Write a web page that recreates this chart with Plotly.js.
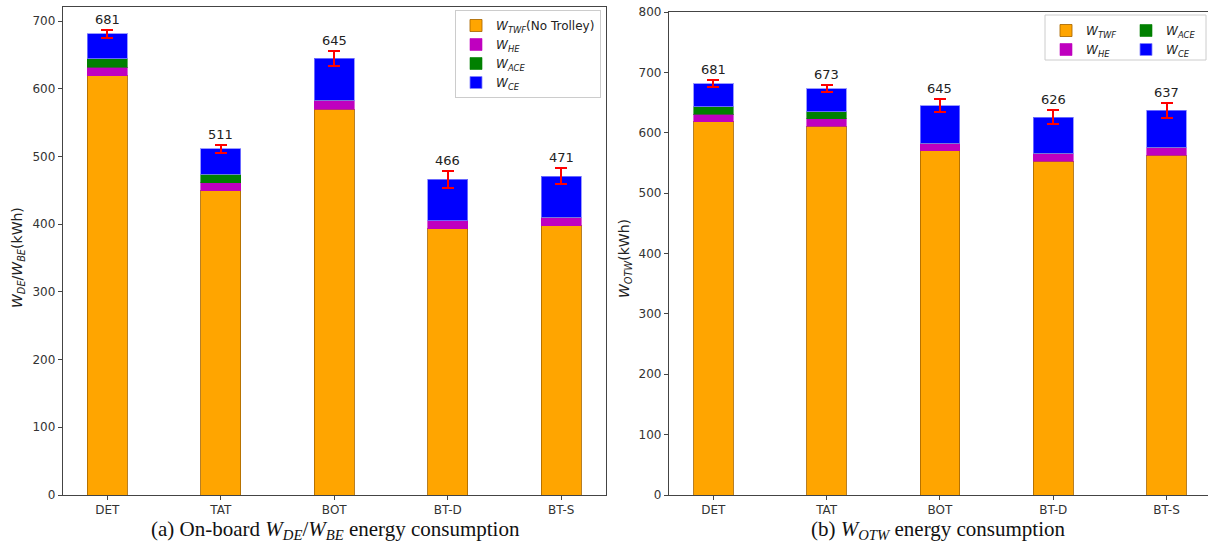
<!DOCTYPE html>
<html>
<head>
<meta charset="utf-8">
<script src="https://cdn.plot.ly/plotly-3.0.1.min.js"></script>
<style>html,body{margin:0;padding:0;background:#fff;}#chart{width:1208px;height:544px;}</style>
</head>
<body>
<div id="chart"></div>
<script>
var categories = ['DET', 'TAT', 'BOT', 'BT-D', 'BT-S'];

// (a) On-board W_DE / W_BE energy consumption (kWh)
var onboardTWF = [619, 449, 570, 393, 398];
var onboardHE  = [13, 12, 13, 12, 12];
var onboardACE = [12, 13, 0, 0, 0];
var onboardCE  = [37, 37, 62, 61, 61];
var onboardErr = [6, 6, 11, 12, 12];
var onboardTotals = [681, 511, 645, 466, 471];

// (b) W_OTW energy consumption (kWh)
var otwTWF = [618, 611, 570, 553, 563];
var otwHE  = [13, 12, 13, 13, 13];
var otwACE = [12, 12, 0, 0, 0];
var otwCE  = [38, 38, 62, 60, 61];
var otwErr = [6, 6, 11, 12, 12];
var otwTotals = [681, 673, 645, 626, 637];

var COL = {twf: '#FFA500', he: '#BF00BF', ace: '#008000', ce: '#0000FF'};
var EDGE = {twf: 'rgba(170,105,0,0.85)', he: 'rgba(191,0,191,0.6)', ace: 'rgba(0,128,0,0.6)', ce: 'rgba(130,130,255,0.8)'};
var BW = 0.35;

function bar(y, key, name, xa, ya, legend, err) {
  var t = {
    type: 'bar', x: categories, y: y, name: name, width: BW,
    xaxis: xa, yaxis: ya, legend: legend, showlegend: true,
    marker: {color: COL[key], line: {color: EDGE[key], width: 1}},
    hoverinfo: 'y+name'
  };
  if (err) t.error_y = {type: 'data', array: err, visible: true, color: '#FF0000', thickness: 2, width: 6};
  return t;
}

var traces = [
  bar(onboardTWF, 'twf', '<i>W</i><sub><i>TWF</i></sub>(No Trolley)', 'x', 'y', 'legend'),
  bar(onboardHE, 'he', '<i>W</i><sub><i>HE</i></sub>', 'x', 'y', 'legend'),
  bar(onboardACE, 'ace', '<i>W</i><sub><i>ACE</i></sub>', 'x', 'y', 'legend'),
  bar(onboardCE, 'ce', '<i>W</i><sub><i>CE</i></sub>', 'x', 'y', 'legend', onboardErr),
  bar(otwTWF, 'twf', '<i>W</i><sub><i>TWF</i></sub>', 'x2', 'y2', 'legend2'),
  bar(otwHE, 'he', '<i>W</i><sub><i>HE</i></sub>', 'x2', 'y2', 'legend2'),
  bar(otwACE, 'ace', '<i>W</i><sub><i>ACE</i></sub>', 'x2', 'y2', 'legend3'),
  bar(otwCE, 'ce', '<i>W</i><sub><i>CE</i></sub>', 'x2', 'y2', 'legend3', otwErr)
];

var tickFont = {family: 'DejaVu Sans', size: 12, color: '#333'};
var W = 1208, H = 544;
function px(x) { return x / W; }
function py(y) { return (H - y) / H; }

var annotations = [];
categories.forEach(function (c, i) {
  annotations.push({xref: 'x', yref: 'y', x: c, y: onboardTotals[i] + onboardErr[i], text: String(onboardTotals[i]),
    showarrow: false, xanchor: 'center', yanchor: 'bottom', yshift: 1, font: {family: 'DejaVu Sans', size: 13, color: '#222'}});
  annotations.push({xref: 'x2', yref: 'y2', x: c, y: otwTotals[i] + otwErr[i], text: String(otwTotals[i]),
    showarrow: false, xanchor: 'center', yanchor: 'bottom', yshift: 1, font: {family: 'DejaVu Sans', size: 13, color: '#222'}});
});
annotations.push({xref: 'paper', yref: 'paper', x: px(18), y: py(258), xanchor: 'center', yanchor: 'middle',
  textangle: -90, showarrow: false,
  text: '<i>W</i><sub><i>DE</i></sub>/<i>W</i><sub><i>BE</i></sub>(kWh)', font: {family: 'DejaVu Sans', size: 14, color: '#222'}});
annotations.push({xref: 'paper', yref: 'paper', x: px(625), y: py(258), xanchor: 'center', yanchor: 'middle',
  textangle: -90, showarrow: false,
  text: '<i>W</i><sub><i>OTW</i></sub>(kWh)', font: {family: 'DejaVu Sans', size: 14, color: '#222'}});
annotations.push({xref: 'paper', yref: 'paper', x: px(335), y: py(530), xanchor: 'center', yanchor: 'middle', showarrow: false,
  text: '(a) On-board <i>W</i><sub><i>DE</i></sub>/<i>W</i><sub><i>BE</i></sub> energy consumption',
  font: {family: 'Liberation Serif', size: 21, color: '#111'}});
annotations.push({xref: 'paper', yref: 'paper', x: px(938), y: py(530), xanchor: 'center', yanchor: 'middle', showarrow: false,
  text: '(b) <i>W</i><sub><i>OTW</i></sub> energy consumption',
  font: {family: 'Liberation Serif', size: 21, color: '#111'}});

var axisCommon = {showline: true, linecolor: '#444', linewidth: 1, mirror: true, ticks: 'outside',
  ticklen: 4, tickcolor: '#444', tickfont: tickFont, showgrid: false, zeroline: false, fixedrange: true};

var legFont = {family: 'DejaVu Sans', size: 12, color: '#222'};

var layout = {
  width: W, height: H,
  margin: {l: 0, r: 0, t: 0, b: 0},
  paper_bgcolor: '#fff', plot_bgcolor: '#fff',
  barmode: 'stack',
  xaxis: Object.assign({}, axisCommon, {domain: [px(62.7), px(605.8)], range: [-0.3925, 4.3925], anchor: 'y', type: 'category'}),
  yaxis: Object.assign({}, axisCommon, {domain: [py(495), py(7)], range: [0, 720.7], dtick: 100, anchor: 'x'}),
  xaxis2: Object.assign({}, axisCommon, {domain: [px(668.9), 1], range: [-0.3925, 4.366], anchor: 'y2', type: 'category'}),
  yaxis2: Object.assign({}, axisCommon, {domain: [py(495), py(12)], range: [0, 800], dtick: 100, anchor: 'x2'}),
  legend: {x: px(455), y: py(10), xanchor: 'left', yanchor: 'top', bgcolor: 'rgba(255,255,255,0.9)',
    bordercolor: '#cccccc', borderwidth: 1, font: legFont, tracegroupgap: 0, itemwidth: 30, traceorder: 'normal'},
  legend2: {x: px(1046), y: py(16), xanchor: 'left', yanchor: 'top', bgcolor: 'rgba(0,0,0,0)',
    borderwidth: 0, font: legFont, tracegroupgap: 0, itemwidth: 30, traceorder: 'normal'},
  legend3: {x: px(1126), y: py(16), xanchor: 'left', yanchor: 'top', bgcolor: 'rgba(0,0,0,0)',
    borderwidth: 0, font: legFont, tracegroupgap: 0, itemwidth: 30, traceorder: 'normal'},
  shapes: [{type: 'rect', xref: 'paper', yref: 'paper', x0: px(1045), x1: px(1206), y0: py(60), y1: py(15),
    line: {color: '#cccccc', width: 1}, fillcolor: 'rgba(255,255,255,0.9)', layer: 'above'}],
  annotations: annotations
};

Plotly.newPlot('chart', traces, layout, {displayModeBar: false, staticPlot: true});
</script>
</body>
</html>
